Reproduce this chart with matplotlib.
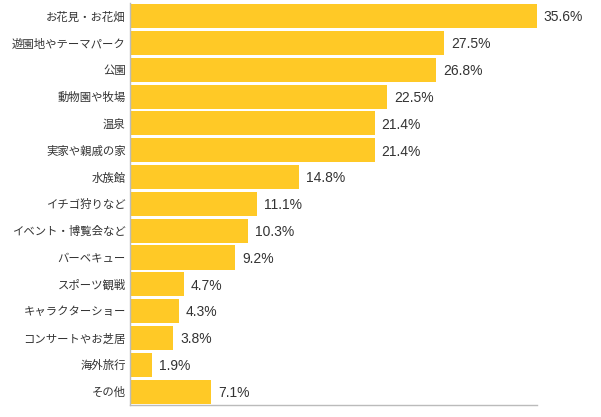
import matplotlib
matplotlib.use("Agg")
import matplotlib.pyplot as plt

plt.rcParams['font.family'] = ['Noto Sans CJK JP', 'DejaVu Sans']

labels = ["お花見・お花畑", "遊園地やテーマパーク", "公園", "動物園や牧場", "温泉",
          "実家や親戚の家", "水族館", "イチゴ狩りなど", "イベント・博覧会など",
          "バーベキュー", "スポーツ観戦", "キャラクターショー", "コンサートやお芝居",
          "海外旅行", "その他"]
values = [35.6, 27.5, 26.8, 22.5, 21.4, 21.4, 14.8, 11.1, 10.3, 9.2, 4.7, 4.3, 3.8, 1.9, 7.1]

fig = plt.figure(figsize=(6.01, 4.17), dpi=100)
ax = fig.add_axes([130/601, 1 - 405/417, (537-130)/601, (405-2.7)/417])

ypos = list(range(len(labels)))
ax.barh(ypos, values, height=0.9, color='#FFC926')
for y, v in zip(ypos, values):
    ax.text(v + 0.6, y + 0.05, "%.1f%%" % v, va='center', ha='left', fontsize=10,
            color='#333333', family=['Liberation Sans', 'DejaVu Sans'])

ax.set_yticks(ypos)
ax.set_yticklabels(labels, fontsize=8.2, color='#333333')
ax.tick_params(axis='y', length=0, pad=3)
ax.set_xticks([])
ax.set_xlim(0, 35.6)
ax.set_ylim(len(labels) - 0.5, -0.5)
for s in ['top', 'right']:
    ax.spines[s].set_visible(False)
for s in ['left', 'bottom']:
    ax.spines[s].set_color('#BBBBBB')
    ax.spines[s].set_linewidth(1)

fig.savefig("out.png", dpi=100)
